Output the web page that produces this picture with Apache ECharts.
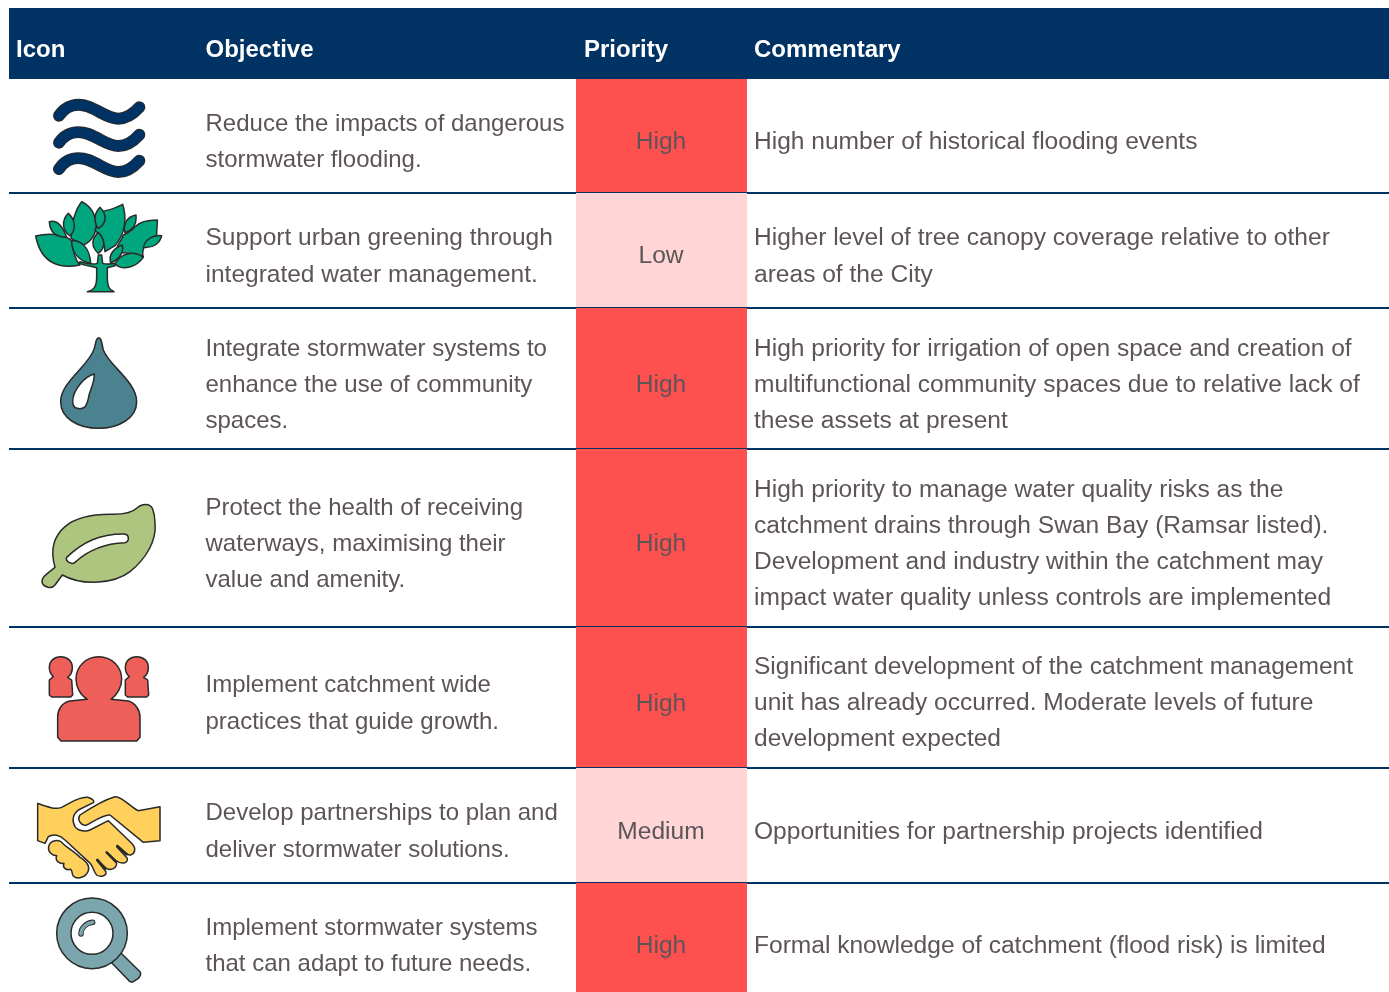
<!DOCTYPE html>
<html>
<head>
<meta charset="utf-8">
<title>Objectives</title>
<style>
html, body { margin: 0; padding: 0; background: #fff; }
#main { width: 1389px; height: 992px; }
</style>
<script src="https://cdn.jsdelivr.net/npm/echarts@6/dist/echarts.min.js"></script>
</head>
<body>
<div id="main"></div>
<script>
// table content
const headers = ['Icon', 'Objective', 'Priority', 'Commentary'];
const icons = ['waves', 'tree', 'drop', 'leaf', 'people', 'hands', 'lens'];
const objectives = [
    ['Reduce the impacts of dangerous', 'stormwater flooding.'],
    ['Support urban greening through', 'integrated water management.'],
    ['Integrate stormwater systems to', 'enhance the use of community', 'spaces.'],
    ['Protect the health of receiving', 'waterways, maximising their', 'value and amenity.'],
    ['Implement catchment wide', 'practices that guide growth.'],
    ['Develop partnerships to plan and', 'deliver stormwater solutions.'],
    ['Implement stormwater systems', 'that can adapt to future needs.']
];
const priorities = ['High', 'Low', 'High', 'High', 'High', 'Medium', 'High'];
const commentary = [
    ['High number of historical flooding events'],
    ['Higher level of tree canopy coverage relative to other', 'areas of the City'],
    ['High priority for irrigation of open space and creation of', 'multifunctional community spaces due to relative lack of', 'these assets at present'],
    ['High priority to manage water quality risks as the', 'catchment drains through Swan Bay (Ramsar listed).', 'Development and industry within the catchment may', 'impact water quality unless controls are implemented'],
    ['Significant development of the catchment management', 'unit has already occurred. Moderate levels of future', 'development expected'],
    ['Opportunities for partnership projects identified'],
    ['Formal knowledge of catchment (flood risk) is limited']
];

// layout, in page pixels
const rowEdges = [79, 193, 308, 449, 627, 768, 883, 992];
const objMid = [142, 256.5, 385, 544, 703.5, 831.5, 946];
const objGap = [36, 37, 36, 36, 37, 37, 36];
const objSize = [24, 24.5, 24, 24, 24, 24, 24];
const priMid = [142, 256, 385, 544, 704, 832, 946];
const comMid = [142, 256.5, 385, 544, 703, 832, 946];
const comGap = [36, 37, 36, 36, 36, 36, 36];
const comSize = 24.55;
const colText = [16, 205.5, 584, 754];
const cellLeft = 576, cellRight = 747, cellMid = 661;
const fontFamily = '"Liberation Sans", Arial, sans-serif';
const navy = '#003263', ink = '#5d5458', outline = '#2a2a2a', leafGreen = '#00a77e';
const priorityColor = { High: '#ff5050', Low: '#ffd5d6', Medium: '#ffd5d6' };

// icon outlines traced at 3x, [origin x, origin y, shapes]
const iconShapes = {
    waves: [0, 0, [
        { line: 'M177,347 C198,316 232,308 265,320 C300,333 325,356 355,356 C380,356 400,342 418,322', stroke: navy },
        { line: 'M177,428 C198,398 232,390 265,402 C300,415 325,438 355,438 C380,438 400,424 418,404', stroke: navy },
        { line: 'M177,507 C198,476 232,468 265,480 C300,493 325,516 355,516 C380,516 400,502 418,482', stroke: navy }
    ]],
    tree: [0, 0, [
        { d: 'M107,708 C140,700 190,700 215,722 C218,750 225,780 240,795 C190,805 125,800 107,708 Z', fill: leafGreen },
        { d: 'M148,665 C165,660 185,670 200,712 C170,712 150,700 148,665 Z', fill: leafGreen },
        { d: 'M472,660 C440,660 420,665 405,680 C395,695 380,700 370,705 C365,725 345,735 350,760 C390,752 410,765 430,770 C425,760 430,748 432,742 C445,730 460,712 470,706 C470,690 472,675 472,660 Z', fill: leafGreen },
        { d: 'M245,605 C265,615 285,635 288,670 C292,695 275,725 250,735 C232,722 220,722 213,715 C215,670 225,630 245,605 Z', fill: leafGreen },
        { d: 'M205,640 C228,660 228,690 210,708 C185,690 185,660 205,640 Z', fill: leafGreen },
        { d: 'M368,613 C380,650 378,700 345,737 L315,755 C315,725 300,705 285,690 C298,670 298,650 298,635 C335,632 350,622 368,613 Z', fill: leafGreen },
        { d: 'M300,622 C322,645 320,670 295,685 C280,665 282,640 300,622 Z', fill: leafGreen },
        { d: 'M295,698 C318,720 315,745 295,760 C272,740 275,715 295,698 Z', fill: leafGreen },
        { d: 'M215,722 C245,720 270,745 272,790 C240,785 215,760 215,722 Z', fill: leafGreen },
        { d: 'M408,645 C410,670 400,690 375,698 C368,675 380,650 408,645 Z', fill: leafGreen },
        { d: 'M485,707 C480,730 460,745 430,742 C435,720 455,705 485,707 Z', fill: leafGreen },
        { d: 'M367,735 C372,760 355,780 332,788 C325,765 340,745 367,735 Z', fill: leafGreen },
        { d: 'M345,792 C360,760 400,750 430,772 C410,800 370,815 345,792 Z', fill: leafGreen },
        { d: 'M262,875 C282,870 290,860 290,830 L290,803 C270,798 250,795 237,790 L240,785 C260,790 280,795 292,790 L295,765 L305,765 L308,790 C320,795 335,790 345,790 L345,797 L322,803 L322,830 C322,860 328,870 342,875 Z', fill: leafGreen }
    ]],
    drop: [0, 310, [
        { d: 'M296,83 C305,83 305,100 310,120 C325,165 410,215 410,275 C410,325 355,355 296,355 C235,355 182,325 182,275 C182,215 270,165 283,115 C288,100 287,83 296,83 Z', fill: '#4a8290' },
        { d: 'M283,192 C255,198 218,240 218,275 C218,290 228,296 240,296 C255,296 262,285 265,265 C268,240 283,225 283,192 Z', fill: '#fff' }
    ]],
    leaf: [0, 310, [
        { d: 'M465,640 C470,690 440,745 390,785 C345,820 250,830 187,795 L165,825 C155,838 135,833 127,820 C122,805 135,795 165,772 C150,720 160,680 195,650 C230,620 290,612 340,613 C370,613 395,610 410,595 C425,580 450,578 458,597 C463,610 465,625 465,640 Z', fill: '#adc57e' },
        { d: 'M385,685 C385,675 378,672 370,672 C300,672 250,695 200,742 C195,755 215,765 225,757 C265,720 310,700 375,698 C382,697 385,692 385,685 Z', fill: '#fff' }
    ]],
    people: [0, 630, [
        { d: 'M160,140 C150,130 148,118 148,113 C148,93 163,80 182,80 C202,80 217,93 217,113 C217,125 212,135 203,142 L215,150 L218,195 L212,201 L155,201 L148,195 L148,150 Z', fill: '#ee5f5a' },
        { d: 'M388,140 C378,130 376,118 376,113 C376,93 391,80 410,80 C430,80 445,93 445,113 C445,125 440,135 431,142 L443,150 L446,195 L440,201 L383,201 L376,195 L376,150 Z', fill: '#ee5f5a' },
        { d: 'M262,208 C240,195 228,170 228,147 C228,110 258,80 296,80 C335,80 365,110 365,147 C365,170 352,195 333,208 L385,213 C405,218 420,240 420,260 L420,322 L410,333 L183,333 L173,322 L173,260 C173,240 185,218 210,213 Z', fill: '#ee5f5a' }
    ]],
    hands: [0, 630, [
        { d: 'M113,520 C140,530 165,540 185,532 C210,520 235,500 262,502 C275,505 285,512 280,518 L235,540 C220,552 215,570 225,590 C235,605 260,605 270,600 L325,572 L395,640 C410,655 405,670 392,675 C385,678 370,665 350,650 L382,685 C385,700 365,705 345,690 L320,668 L350,700 C350,715 330,725 315,712 L290,690 L318,725 C320,740 300,742 290,735 C280,725 280,705 265,695 L195,630 C180,615 160,610 145,620 L135,640 L113,632 Z', fill: '#ffd15c' },
        { d: 'M345,500 C365,498 390,530 415,542 L480,530 L480,632 L430,637 L330,555 C310,553 280,575 260,585 C245,590 230,570 240,555 C270,535 310,510 345,500 Z', fill: '#ffd15c' },
        { d: 'M146,650 C150,630 178,625 190,642 C200,652 228,668 240,682 C255,690 270,705 265,722 C258,742 232,750 220,738 C214,730 218,722 212,718 C198,722 186,712 192,700 C178,702 164,692 170,677 C155,676 143,665 146,650 Z', fill: '#ffd15c' },
        { line: 'M292,690 L316,716', stroke: outline, thin: true },
        { line: 'M320,667 L348,695', stroke: outline, thin: true },
        { line: 'M352,648 L380,673', stroke: outline, thin: true }
    ]],
    lens: [0, 630, [
        { d: 'M332,995 L362,968 L420,1025 C425,1030 420,1040 415,1045 L400,1055 C395,1058 388,1055 385,1050 Z', fill: '#7ba6ae' },
        { d: 'M170,910 A106,106 0 1 1 382,910 A106,106 0 1 1 170,910 Z', fill: '#7ba6ae' },
        { d: 'M213,910 A63,63 0 1 1 339,910 A63,63 0 1 1 213,910 Z', fill: '#fff' },
        { line: 'M243,912 C243,893 258,880 278,877', stroke: '#7ba6ae' }
    ]]
};

// traced path -> page pixels, keeps stroke widths unscaled
function tracedPath(d, ox, oy, style) {
    const box = echarts.graphic.makePath(d).getBoundingRect();
    return {
        type: 'path',
        shape: {
            pathData: d,
            layout: 'cover',
            x: ox + box.x / 3,
            y: oy + box.y / 3,
            width: box.width / 3,
            height: box.height / 3
        },
        style: style
    };
}

function drawIcon(name) {
    const [ox, oy, shapes] = iconShapes[name];
    const out = [];
    shapes.forEach(s => {
        if (s.d) {
            out.push(tracedPath(s.d, ox, oy, { fill: s.fill, stroke: outline, lineWidth: 1.5, lineJoin: 'round' }));
        } else if (s.thin) {
            out.push(tracedPath(s.line, ox, oy, { fill: 'none', stroke: s.stroke, lineWidth: 2.6, lineCap: 'round' }));
        } else {
            const w = s.stroke === navy ? 10 : 3.5;
            out.push(tracedPath(s.line, ox, oy, { fill: 'none', stroke: outline, lineWidth: w + 2, lineCap: 'round' }));
            out.push(tracedPath(s.line, ox, oy, { fill: 'none', stroke: s.stroke, lineWidth: w, lineCap: 'round' }));
        }
    });
    return out;
}

function textLines(lines, x, mid, gap, size, api, align) {
    return lines.map((line, i) => {
        const p = api.coord([x, mid + (i - (lines.length - 1) / 2) * gap]);
        return {
            type: 'text',
            x: p[0],
            y: p[1],
            style: { text: line, fill: ink, font: size + 'px ' + fontFamily, textAlign: align || 'left', textVerticalAlign: 'middle' }
        };
    });
}

function renderRow(params, api) {
    const i = api.value(0);
    const tl = api.coord([cellLeft, rowEdges[i]]);
    const br = api.coord([cellRight, rowEdges[i + 1]]);
    const children = [{
        type: 'rect',
        shape: { x: tl[0], y: tl[1], width: br[0] - tl[0], height: br[1] - tl[1] },
        style: { fill: priorityColor[priorities[i]] }
    }];
    if (i < priorities.length - 1) {
        children.push({
            type: 'rect',
            shape: { x: 9, y: br[1] - 1, width: 1380, height: 2 },
            style: { fill: navy }
        });
    }
    return {
        type: 'group',
        children: children.concat(
            drawIcon(icons[i]),
            textLines(objectives[i], colText[1], objMid[i], objGap[i], objSize[i], api),
            textLines([priorities[i]], cellMid, priMid[i], 0, comSize, api, 'center'),
            textLines(commentary[i], colText[3], comMid[i], comGap[i], comSize, api)
        )
    };
}

function renderHeader(params, api) {
    const i = api.value(0);
    const p = api.coord([colText[i], 50]);
    const children = [{
        type: 'text',
        x: p[0],
        y: p[1],
        style: { text: headers[i], fill: '#fff', font: 'bold 24px ' + fontFamily, textAlign: 'left', textVerticalAlign: 'middle' }
    }];
    if (i === 0) {
        children.unshift({
            type: 'rect',
            shape: { x: 9, y: 8, width: 1380, height: 71 },
            style: { fill: navy }
        });
    }
    return { type: 'group', children: children };
}

echarts.init(document.getElementById('main'), null, { renderer: 'canvas' }).setOption({
    animation: false,
    grid: { left: 0, right: 0, top: 0, bottom: 0 },
    xAxis: { type: 'value', min: 0, max: 1389, show: false },
    yAxis: { type: 'value', min: 0, max: 992, inverse: true, show: false },
    series: [
        {
            type: 'custom',
            coordinateSystem: 'cartesian2d',
            silent: true,
            clip: false,
            renderItem: renderHeader,
            data: headers.map((h, i) => [i])
        },
        {
            type: 'custom',
            coordinateSystem: 'cartesian2d',
            silent: true,
            clip: false,
            renderItem: renderRow,
            data: priorities.map((p, i) => [i])
        }
    ]
});
</script>
</body>
</html>
